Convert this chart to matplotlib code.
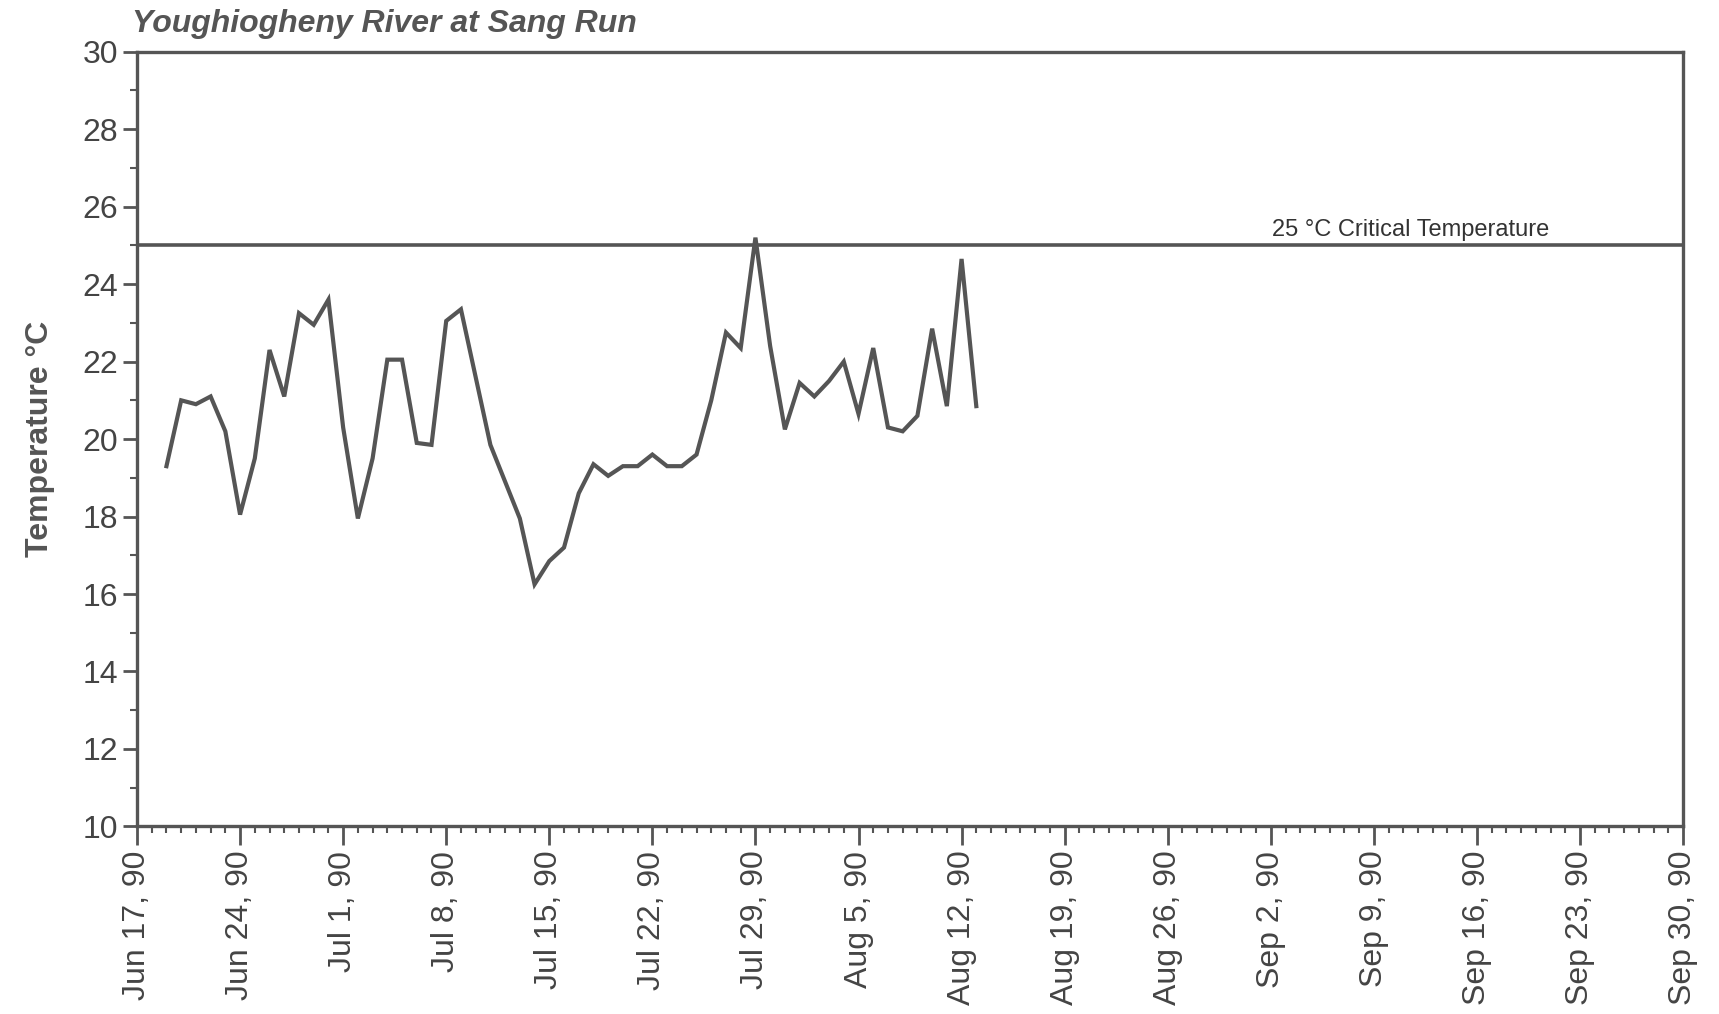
import matplotlib
matplotlib.use("Agg")
import matplotlib.pyplot as plt
import matplotlib.dates as mdates
import pandas as pd

plt.rcParams['font.family'] = ['Liberation Sans', 'DejaVu Sans']

# daily water temperature, Jun 19 - Aug 13 1990
start_day = "1990-06-19"
temps = [19.3, 21.0, 20.9, 21.1, 20.2, 18.05, 19.5, 22.3, 21.1, 23.25,
         22.95, 23.6, 20.3, 17.95, 19.5, 22.05, 22.05, 19.9, 19.85, 23.05,
         23.35, 21.6, 19.85, 18.9, 17.95, 16.25, 16.85, 17.2, 18.6, 19.35,
         19.05, 19.3, 19.3, 19.6, 19.3, 19.3, 19.6, 21.0, 22.75, 22.35,
         25.2, 22.4, 20.25, 21.45, 21.1, 21.5, 22.0, 20.65, 22.35, 20.3,
         20.2, 20.6, 22.85, 20.85, 24.65, 20.85]
critical = 25
crit_label = "25 °C Critical Temperature"
x_start, x_end = "1990-06-17", "1990-09-30"
title = "Youghiogheny River at Sang Run"

col = "#555555"
dates = pd.date_range(start_day, periods=len(temps), freq="D")

fig = plt.figure(figsize=(17.19, 10.14), dpi=100)
ax = fig.add_axes([0.0797, 0.185, 0.8994, 0.764])

ax.plot(dates, temps, color=col, lw=3.0, solid_joinstyle="miter")
ax.axhline(critical, color=col, lw=2.6)
ax.text(pd.Timestamp("1990-09-11 12:00"), critical + 0.12, crit_label, ha="center", va="bottom",
        fontsize=17, color="#333333")

ax.set_xlim(pd.Timestamp(x_start), pd.Timestamp(x_end))
ax.set_ylim(10, 30)
ax.set_yticks(range(10, 31, 2))
ax.set_yticks(range(10, 31, 1), minor=True)

ticks = pd.date_range(x_start, x_end, freq="7D")
ax.set_xticks(ticks)
ax.set_xticklabels([f"{d:%b} {d.day}, {d:%y}" for d in ticks], rotation=90)
ax.xaxis.set_minor_locator(mdates.DayLocator())

for s in ax.spines.values():
    s.set_color(col)
    s.set_linewidth(2.4)

ax.tick_params(axis="both", which="major", colors=col, labelcolor="#444444",
               labelsize=23, width=2, length=10)
ax.tick_params(axis="both", which="minor", colors=col, width=1.5, length=5)
ax.tick_params(axis="x", which="major", length=14)

ax.set_ylabel("Temperature °C", fontsize=23, fontweight="bold", color="#555555", labelpad=20)
fig.text(0.0765, 0.962, title, fontsize=23, fontweight="bold", style="italic",
         color="#555555", ha="left", va="bottom")

fig.savefig("out.png", dpi=100, facecolor="white")
